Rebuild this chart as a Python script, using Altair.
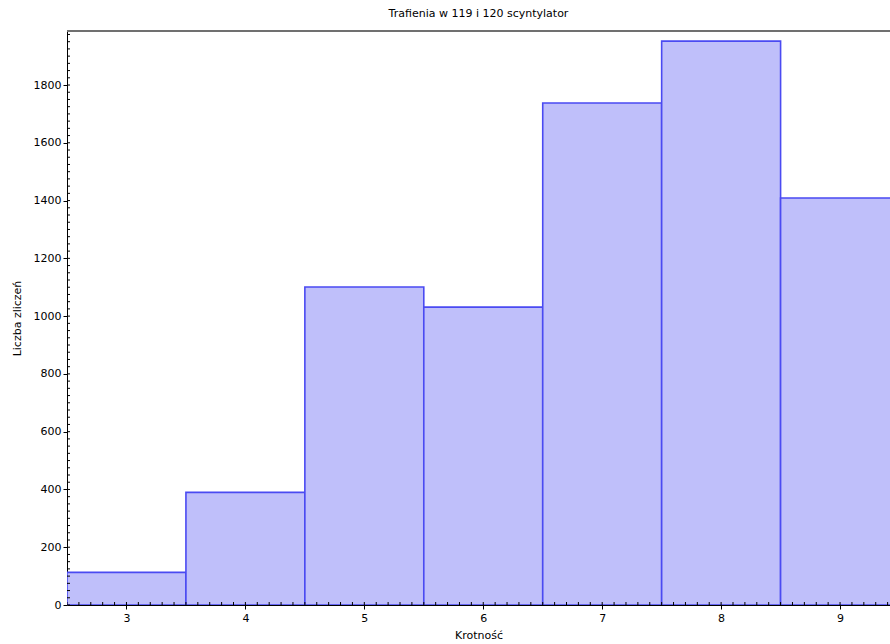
import altair as alt
import pandas as pd

krotnosc = [3, 4, 5, 6, 7, 8, 9]
zliczenia = [113, 390, 1101, 1031, 1738, 1952, 1409]

x_major = [3, 4, 5, 6, 7, 8, 9]
y_major = [0, 200, 400, 600, 800, 1000, 1200, 1400, 1600, 1800]
x_minor = [round(2.5 + 0.1 * i, 1) for i in range(70)]
y_minor = [25 * i for i in range(80)]

X_DOMAIN = [2.5, 9.42]
Y_DOMAIN = [0, 1987]
W, H = 823, 574
FONT = "DejaVu Sans"

df = pd.DataFrame({
    "start": [k - 0.5 for k in krotnosc],
    "end": [k + 0.5 for k in krotnosc],
    "count": zliczenia,
})

xs = alt.Scale(domain=X_DOMAIN, nice=False, zero=False)
ys = alt.Scale(domain=Y_DOMAIN, nice=False, zero=False)

bars = alt.Chart(df).mark_rect(
    fill="#bfbffa", stroke="#4a4af2", strokeWidth=1.6, clip=True
).encode(
    x=alt.X("start:Q", scale=xs, title="Krotność",
            axis=alt.Axis(values=x_major, format="d", tickSize=4, tickColor="black",
                          domainColor="black", labelColor="black", labelFont=FONT,
                          labelFontSize=11, titleFont=FONT, titleFontSize=11,
                          titleFontWeight="normal", titleColor="black", titlePadding=6,
                          grid=False, labelPadding=3)),
    x2="end:Q",
    y=alt.Y("count:Q", scale=ys, title="Liczba zliczeń",
            axis=alt.Axis(values=y_major, format="d", tickSize=4, tickColor="black",
                          domainColor="black", labelColor="black", labelFont=FONT,
                          labelFontSize=11, titleFont=FONT, titleFontSize=11,
                          titleFontWeight="normal", titleColor="black", titlePadding=11,
                          grid=False, labelPadding=2)),
    y2=alt.datum(0),
)

xminor_df = pd.DataFrame({"v": x_minor})
yminor_df = pd.DataFrame({"v": y_minor})

xticks = alt.Chart(xminor_df).mark_rule(color="black", strokeWidth=1, clip=True).encode(
    x=alt.X("v:Q", scale=xs),
    y=alt.value(H - 3),
    y2=alt.value(H),
)
yticks = alt.Chart(yminor_df).mark_rule(color="black", strokeWidth=1, clip=True).encode(
    y=alt.Y("v:Q", scale=ys),
    x=alt.value(0),
    x2=alt.value(3),
)
top_border = alt.Chart(pd.DataFrame({"v": [0]})).mark_rule(color="#707070", strokeWidth=2).encode(
    y=alt.value(0),
    x=alt.value(0),
    x2=alt.value(W),
)

chart = alt.layer(bars, xticks, yticks, top_border).properties(
    width=W, height=H,
    title=alt.TitleParams("Trafienia w 119 i 120 scyntylator", font=FONT, fontSize=11,
                          fontWeight="normal", color="black", offset=11),
    autosize=alt.AutoSizeParams(type="none"),
    padding={"left": 67, "top": 31, "right": 0, "bottom": 39},
).configure_view(stroke=None).configure(background="white")

chart.save("out.html", embed_options={"renderer": "svg", "actions": False})
